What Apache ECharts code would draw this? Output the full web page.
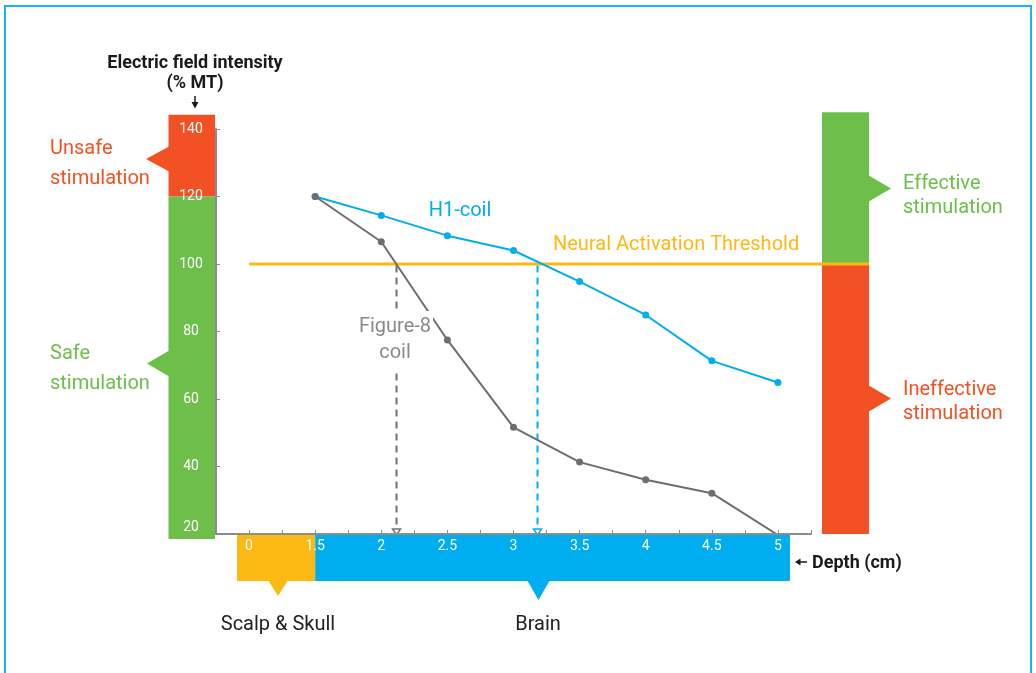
<!DOCTYPE html>
<html><head><meta charset="utf-8">
<script src="https://cdn.jsdelivr.net/npm/echarts@6/dist/echarts.min.js"></script>
<style>html,body{margin:0;padding:0;background:#fff}#c{width:1036px;height:673px}</style>
</head><body><div id="c"></div>
<script>
// ---------- data ----------
const depthLabels = ['0', '1.5', '2', '2.5', '3', '3.5', '4', '4.5', '5'];
const depthValues = [0, 1.5, 2, 2.5, 3, 3.5, 4, 4.5, 5];
const h1Values   = [null, 120, 114.4, 108.4, 104.0, 94.8, 84.9, 71.3, 64.9];
const fig8Values = [null, 120, 106.6, 77.5, 51.6, 41.3, 36.1, 32.1, 19.7];
const thresholdValue = 100;
const crossingDepths = [2.11, 3.18];          // Figure-8, H1 reach the threshold
const safetyZoneNames = ['Unsafe\nstimulation', 'Safe\nstimulation'];
const safetyZoneLow  = [120, 18.5];
const safetyZoneHigh = [144.2, 120];
const effectZoneNames = ['Effective\nstimulation', 'Ineffective\nstimulation'];
const effectZoneLow  = [100, 20];
const effectZoneHigh = [145, 100];
const tissueNames = ['Scalp & Skull', 'Brain'];
const tissueFrom = [0, 1.5];
const tissueTo   = [1.5, 5];

// ---------- style ----------
const RED = '#F15124', GREEN = '#6DBE4B', BLUE = '#00AEEF', YELLOW = '#FDB913';
const GRAY = '#6D6E71', AXIS = '#8C8C8C', FONT = 'Roboto';

function depthPos(d) {
  for (let i = 0; i < depthValues.length - 1; i++) {
    if (d <= depthValues[i + 1]) return i + (d - depthValues[i]) / (depthValues[i + 1] - depthValues[i]);
  }
  return depthValues.length - 1;
}
function seriesData(vals) {
  const out = [];
  vals.forEach((v, i) => { if (v != null) out.push([i, v]); });
  return out;
}

const chart = echarts.init(document.getElementById('c'), null, {renderer: 'canvas'});

function zoneRender(side, colors) {
  return function (params, api) {
    const cs = params.coordSys;
    const lo = api.coord([0, api.value(0)]);
    const hi = api.coord([0, api.value(1)]);
    const x0 = side === 'left' ? cs.x - 47.5 : cs.x + cs.width + 11;
    const w = side === 'left' ? 46.5 : 47;
    return {type: 'rect', shape: {x: x0, y: hi[1], width: w, height: lo[1] - hi[1]},
      style: {fill: colors[params.dataIndex]}};
  };
}

const option = {
  animation: false,
  backgroundColor: '#fff',
  grid: {left: 216, top: 129, width: 595, height: 405},
  xAxis: {
    type: 'value', min: -0.5, max: 8.5, interval: 0.5, z: 10,
    axisLine: {show: true, onZero: false, lineStyle: {color: AXIS, width: 2}},
    axisTick: {show: true, inside: true, length: 4, lineStyle: {color: AXIS, width: 1}},
    splitLine: {show: false},
    axisLabel: {
      color: '#fff', fontSize: 14, fontFamily: FONT, margin: 5,
      showMinLabel: true, showMaxLabel: true,
      formatter: v => {
        const r = Math.round(v);
        return (Math.abs(v - r) < 1e-6 && r >= 0 && r < depthLabels.length) ? depthLabels[r] : '';
      }
    }
  },
  yAxis: {
    type: 'value', min: 20, max: 140, interval: 20, z: 10,
    axisLine: {show: true, onZero: false, lineStyle: {color: AXIS, width: 2}},
    axisTick: {show: true, inside: true, length: 4, lineStyle: {color: AXIS, width: 1}},
    splitLine: {show: false},
    axisLabel: {color: '#fff', fontSize: 14, fontFamily: FONT, align: 'center', margin: 25,
      verticalAlignMinLabel: 'bottom'}
  },
  series: [
    {type: 'custom', name: 'safety', z: 1, clip: false,
      data: safetyZoneLow.map((l, i) => [l, safetyZoneHigh[i]]),
      encode: {y: [0, 1]},
      renderItem: zoneRender('left', [RED, GREEN])},
    {type: 'custom', name: 'effect', z: 1, clip: false,
      data: effectZoneLow.map((l, i) => [l, effectZoneHigh[i]]),
      encode: {y: [0, 1]},
      renderItem: zoneRender('right', [GREEN, RED])},
    {type: 'custom', name: 'tissue', z: 1, clip: false,
      data: tissueFrom.map((f, i) => [depthPos(f), depthPos(tissueTo[i])]),
      encode: {x: [0, 1]},
      renderItem: function (params, api) {
        const cs = params.coordSys;
        const a = api.coord([api.value(0), 20]);
        const b = api.coord([api.value(1), 20]);
        const n = tissueFrom.length;
        const x0 = a[0] - (params.dataIndex === 0 ? 12 : 0);
        const x1 = b[0] + (params.dataIndex === n - 1 ? 12 : 0);
        const y0 = cs.y + cs.height + 1;
        return {type: 'rect', shape: {x: x0, y: y0, width: x1 - x0, height: 46},
          style: {fill: [YELLOW, BLUE][params.dataIndex]}};
      }},
    {type: 'custom', name: 'threshold', z: 3, clip: false,
      data: [[0, thresholdValue]],
      renderItem: function (params, api) {
        const cs = params.coordSys;
        const p = api.coord([api.value(0), api.value(1)]);
        return {type: 'line', shape: {x1: p[0], y1: p[1], x2: cs.x + cs.width + 58, y2: p[1]},
          style: {stroke: YELLOW, lineWidth: 3}};
      }},
    {type: 'custom', name: 'drop', z: 4, clip: false,
      data: crossingDepths.map(d => [depthPos(d), thresholdValue]),
      renderItem: function (params, api) {
        const col = ['#707070', BLUE][params.dataIndex];
        const top = api.coord([api.value(0), api.value(1)]);
        const bot = api.coord([api.value(0), 20]);
        const x = Math.round(top[0]) + 0.5;
        return {type: 'group', children: [
          {type: 'line', shape: {x1: x, y1: top[1] + 1.5, x2: x, y2: bot[1] - 5},
            style: {stroke: col, lineWidth: 2, lineDash: [7, 5]}},
          {type: 'polygon', shape: {points: [[x - 4, bot[1] - 5], [x + 4, bot[1] - 5], [x, bot[1] + 1]]},
            style: {fill: '#fff', stroke: col, lineWidth: 1.5}}
        ]};
      }},
    {type: 'line', name: 'H1-coil', z: 5, data: seriesData(h1Values),
      symbol: 'circle', symbolSize: 7,
      lineStyle: {color: BLUE, width: 2}, itemStyle: {color: BLUE}},
    {type: 'line', name: 'Figure-8 coil', z: 6, data: seriesData(fig8Values),
      symbol: 'circle', symbolSize: 7,
      lineStyle: {color: GRAY, width: 2}, itemStyle: {color: GRAY}}
  ],
  graphic: [
    {type: 'rect', z: 100, shape: {x: 5, y: 6, width: 1026, height: 720},
      style: {fill: 'none', stroke: '#1CB4EC', lineWidth: 2}},
    // y-axis title
    {type: 'text', z: 100, x: 195, y: 73, style: {text: 'Electric field intensity\n(% MT)',
      fill: '#1a1a1a', fontSize: 18, fontWeight: 'bold', fontFamily: FONT, lineHeight: 20,
      textAlign: 'center', textVerticalAlign: 'middle'}},
    {type: 'line', z: 100, shape: {x1: 195, y1: 96, x2: 195, y2: 104}, style: {stroke: '#1a1a1a', lineWidth: 1.5}},
    {type: 'polygon', z: 100, shape: {points: [[191.5, 102], [198.5, 102], [195, 108.5]]}, style: {fill: '#1a1a1a'}},
    // left zone labels + pointers
    {type: 'text', z: 100, x: 50, y: 164, style: {text: safetyZoneNames[0], fill: RED, fontSize: 20,
      fontFamily: FONT, lineHeight: 30, textAlign: 'left', textVerticalAlign: 'middle'}},
    {type: 'polygon', z: 100, shape: {points: [[170, 146], [170, 172], [146, 159]]}, style: {fill: RED}},
    {type: 'text', z: 100, x: 50, y: 369, style: {text: safetyZoneNames[1], fill: GREEN, fontSize: 20,
      fontFamily: FONT, lineHeight: 30, textAlign: 'left', textVerticalAlign: 'middle'}},
    {type: 'polygon', z: 100, shape: {points: [[170, 350], [170, 377], [147, 363.5]]}, style: {fill: GREEN}},
    // right zone labels + pointers
    {type: 'text', z: 100, x: 903, y: 196, style: {text: effectZoneNames[0], fill: GREEN, fontSize: 20,
      fontFamily: FONT, lineHeight: 24, textAlign: 'left', textVerticalAlign: 'middle'}},
    {type: 'polygon', z: 100, shape: {points: [[868, 175], [868, 202], [891, 188.5]]}, style: {fill: GREEN}},
    {type: 'text', z: 100, x: 903, y: 402, style: {text: effectZoneNames[1], fill: RED, fontSize: 20,
      fontFamily: FONT, lineHeight: 24, textAlign: 'left', textVerticalAlign: 'middle'}},
    {type: 'polygon', z: 100, shape: {points: [[868, 385], [868, 412], [891, 398.5]]}, style: {fill: RED}},
    // series labels
    {type: 'text', z: 100, x: 460, y: 211, style: {text: 'H1-coil', fill: BLUE, fontSize: 20,
      fontFamily: FONT, textAlign: 'center', textVerticalAlign: 'middle'}},
    {type: 'text', z: 100, x: 553, y: 245, style: {text: 'Neural Activation Threshold', fill: YELLOW, fontSize: 20,
      fontFamily: FONT, textAlign: 'left', textVerticalAlign: 'middle'}},
    {type: 'text', z: 100, x: 395, y: 340, style: {text: 'Figure-8\ncoil', fill: '#8A8A8A', fontSize: 20,
      fontFamily: FONT, lineHeight: 26, textAlign: 'center', textVerticalAlign: 'middle',
      backgroundColor: '#fff', padding: [3, 2]}},
    // tissue pointers + labels
    {type: 'polygon', z: 100, shape: {points: [[268, 580], [288, 580], [278, 596]]}, style: {fill: YELLOW}},
    {type: 'polygon', z: 100, shape: {points: [[527, 580], [550, 580], [538.5, 600]]}, style: {fill: BLUE}},
    {type: 'text', z: 100, x: 278, y: 625, style: {text: tissueNames[0], fill: '#222', fontSize: 20,
      fontFamily: FONT, textAlign: 'center', textVerticalAlign: 'middle'}},
    {type: 'text', z: 100, x: 538, y: 625, style: {text: tissueNames[1], fill: '#222', fontSize: 20,
      fontFamily: FONT, textAlign: 'center', textVerticalAlign: 'middle'}},
    // depth axis name
    {type: 'line', z: 100, shape: {x1: 799, y1: 562, x2: 807, y2: 562}, style: {stroke: '#1a1a1a', lineWidth: 1.5}},
    {type: 'polygon', z: 100, shape: {points: [[795, 562], [800.5, 558.5], [800.5, 565.5]]}, style: {fill: '#1a1a1a'}},
    {type: 'text', z: 100, x: 812, y: 563, style: {text: 'Depth (cm)', fill: '#1a1a1a', fontSize: 18,
      fontWeight: 'bold', fontFamily: FONT, textAlign: 'left', textVerticalAlign: 'middle'}}
  ]
};
chart.setOption(option);
</script></body></html>
